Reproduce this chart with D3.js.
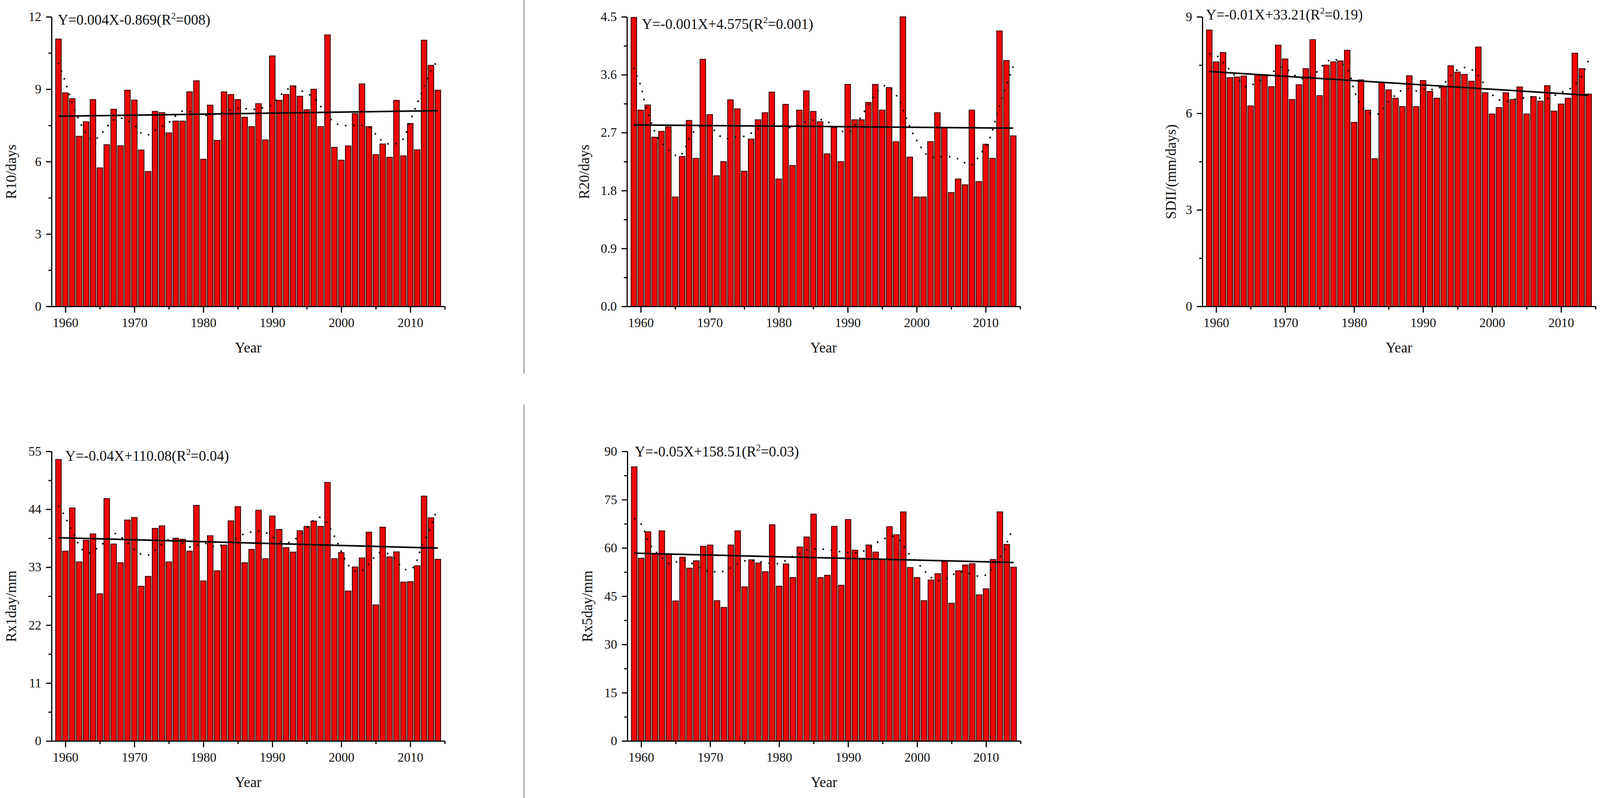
<!DOCTYPE html>
<html>
<head>
<meta charset="utf-8">
<script src="https://cdn.jsdelivr.net/npm/d3@7/dist/d3.min.js"></script>
<style>
  body { margin: 0; background: #fff; }
  text { font-family: "Liberation Serif", "Times New Roman", serif; fill: #111; }
</style>
</head>
<body>
<svg class="chart"></svg>
<script>
// years on the x axis
var years = [1959, 1960, 1961, 1962, 1963, 1964, 1965, 1966, 1967, 1968,
             1969, 1970, 1971, 1972, 1973, 1974, 1975, 1976, 1977, 1978,
             1979, 1980, 1981, 1982, 1983, 1984, 1985, 1986, 1987, 1988,
             1989, 1990, 1991, 1992, 1993, 1994, 1995, 1996, 1997, 1998,
             1999, 2000, 2001, 2002, 2003, 2004, 2005, 2006, 2007, 2008,
             2009, 2010, 2011, 2012, 2013, 2014];
var yearTicks = [1960, 1970, 1980, 1990, 2000, 2010];
var yearMinor = [1965, 1975, 1985, 1995, 2005, 2015];

// R10/days
var r10 = [11.08, 8.85, 8.61, 7.05, 7.65, 8.57, 5.74, 6.70, 8.17, 6.66,
           8.96, 8.55, 6.48, 5.59, 8.08, 8.03, 7.19, 7.68, 7.68, 8.89,
           9.35, 6.10, 8.34, 6.88, 8.89, 8.78, 8.57, 7.84, 7.45, 8.40,
           6.90, 10.38, 8.54, 8.78, 9.14, 8.71, 8.15, 9.00, 7.45, 11.25,
           6.59, 6.06, 6.65, 7.99, 9.22, 7.45, 6.29, 6.73, 6.18, 8.54,
           6.24, 7.58, 6.49, 11.03, 9.99, 8.96];
var r10Trend = [7.88, 8.11];
var r10Smooth = [[1959, 10.1], [1960, 9.3], [1961.2, 8.26], [1962.3, 7.52], [1963, 7.18], [1964, 6.88],
                 [1965, 7.08], [1966, 7.43], [1967, 7.72], [1968, 7.8], [1969, 7.7], [1970, 7.52],
                 [1971, 7.18], [1972, 7.11], [1973, 7.3], [1975, 7.62], [1976.1, 7.92], [1977.2, 8.11],
                 [1978.8, 8.0], [1980.4, 7.92], [1982.4, 8.02], [1984.8, 8.2], [1986, 8.2], [1987, 8.16],
                 [1988, 8.2], [1990, 8.36], [1991, 8.7], [1992, 8.95], [1993, 9.12], [1994, 8.97],
                 [1996, 8.65], [1997, 8.29], [1998, 7.92], [1999, 7.62], [2000, 7.5], [2002, 7.5],
                 [2004, 7.43], [2005, 7.13], [2006, 6.84], [2007, 6.72], [2008, 6.75], [2009, 6.95],
                 [2010, 7.7], [2011, 8.4], [2012, 9.1], [2013, 9.79], [2014, 10.18]];
var r10Ticks = [0, 3, 6, 9, 12];

// R20/days
var r20 = [4.49, 3.05, 3.13, 2.63, 2.72, 2.79, 1.70, 2.33, 2.89, 2.30,
           3.84, 2.98, 2.03, 2.25, 3.21, 3.07, 2.10, 2.60, 2.90, 3.01,
           3.33, 1.98, 3.14, 2.19, 3.05, 3.35, 3.03, 2.87, 2.37, 2.78,
           2.25, 3.45, 2.90, 2.90, 3.17, 3.45, 3.05, 3.40, 2.56, 4.50,
           2.32, 1.70, 1.70, 2.56, 3.01, 2.78, 1.77, 1.98, 1.89, 3.05,
           1.94, 2.52, 2.30, 4.28, 3.82, 2.65];
var r20Trend = [2.82, 2.77];
var r20Smooth = [[1959, 3.71], [1959.5, 3.56], [1960, 3.43], [1960.6, 3.17], [1961.4, 2.9], [1962.5, 2.62],
                 [1964.6, 2.38], [1965.6, 2.33], [1966.6, 2.5], [1967.4, 2.68], [1969.2, 2.82], [1970.6, 2.74],
                 [1972, 2.61], [1973.5, 2.63], [1975.3, 2.65], [1976.7, 2.74], [1979, 2.83], [1981.8, 2.78],
                 [1984, 2.87], [1985.5, 2.9], [1986.7, 2.89], [1988.6, 2.76], [1990, 2.7], [1991.6, 2.89],
                 [1993, 3.13], [1994.6, 3.37], [1995.6, 3.43], [1997.3, 3.24], [1998.3, 2.98], [1999.3, 2.72],
                 [2000.3, 2.53], [2001.8, 2.33], [2004, 2.33], [2005.6, 2.31], [2006.8, 2.24], [2008, 2.2],
                 [2009.3, 2.38], [2010.3, 2.53], [2011.8, 3.04], [2012.5, 3.28], [2014, 3.73]];
var r20Ticks = [0, 0.9, 1.8, 2.7, 3.6, 4.5];

// SDII/(mm/days)
var sdii = [8.59, 7.60, 7.89, 7.11, 7.13, 7.16, 6.23, 7.19, 7.19, 6.83,
            8.12, 7.69, 6.43, 6.89, 7.39, 8.29, 6.55, 7.50, 7.60, 7.63,
            7.96, 5.72, 7.04, 6.10, 4.59, 6.95, 6.73, 6.47, 6.21, 7.17,
            6.21, 7.02, 6.68, 6.47, 6.82, 7.48, 7.28, 7.21, 7.00, 8.06,
            6.64, 5.98, 6.18, 6.64, 6.43, 6.82, 5.98, 6.52, 6.38, 6.86,
            6.07, 6.29, 6.47, 7.87, 7.39, 6.60];
var sdiiTrend = [7.30, 6.56];
var sdiiSmooth = [[1959, 7.85], [1960.3, 7.76], [1961.3, 7.5], [1962.3, 7.28], [1963.3, 7.02], [1964.5, 6.82],
                  [1965.7, 6.95], [1967, 7.1], [1968.5, 7.33], [1969.4, 7.43], [1970.6, 7.32], [1972, 7.1],
                  [1973.2, 7.1], [1974.4, 7.25], [1975.9, 7.58], [1977, 7.69], [1978.2, 7.54], [1979.2, 7.32],
                  [1980, 6.73], [1981.2, 6.18], [1982.5, 5.99], [1983.7, 5.99], [1984.7, 6.29], [1985.7, 6.51],
                  [1986.7, 6.69], [1987.9, 6.77], [1989.3, 6.69], [1990.6, 6.77], [1991.8, 6.73], [1993, 6.91],
                  [1994, 7.17], [1995.3, 7.39], [1996.5, 7.41], [1997.7, 7.25], [1998.7, 6.95], [1999.7, 6.66],
                  [2000.6, 6.47], [2001.9, 6.36], [2003.1, 6.43], [2004.4, 6.47], [2005.6, 6.51], [2007.1, 6.47],
                  [2008.3, 6.47], [2009.6, 6.62], [2011, 6.73], [2011.8, 6.84], [2013, 7.17], [2014, 7.65]];
var sdiiTicks = [0, 3, 6, 9];

// Rx1day/mm
var rx1 = [53.46, 36.06, 44.26, 34.00, 38.12, 39.32, 27.95, 46.03, 37.40, 33.85,
           41.96, 42.44, 29.39, 31.26, 40.37, 40.85, 34.00, 38.50, 38.31, 36.06,
           44.74, 30.40, 38.98, 32.32, 37.21, 41.81, 44.50, 33.85, 36.39, 43.83,
           34.62, 42.72, 40.18, 36.73, 35.87, 39.94, 40.76, 41.76, 40.76, 49.10,
           34.62, 35.77, 28.48, 33.04, 34.76, 39.65, 25.85, 40.61, 34.96, 35.91,
           30.16, 30.26, 33.28, 46.51, 42.39, 34.52];
var rx1Trend = [38.6, 36.63];
var rx1Smooth = [[1959, 44.7], [1959.8, 43.0], [1960.5, 41.1], [1961.2, 39.4], [1961.7, 37.9], [1962.5, 36.3],
                 [1963.5, 35.7], [1964.8, 36.8], [1966.1, 38.2], [1967.2, 39.4], [1968.3, 38.5], [1969.5, 37.0],
                 [1970.7, 35.6], [1972, 35.3], [1973.1, 36.3], [1974.3, 37.7], [1975.7, 38.5], [1977, 37.5],
                 [1978.3, 36.8], [1979.4, 37.3], [1980.7, 37.5], [1981.8, 36.8], [1983.1, 37.5], [1984.4, 38.2],
                 [1985.7, 39.2], [1987, 39.7], [1988.3, 39.8], [1989.6, 39.2], [1990.7, 38.2], [1992, 37.6],
                 [1993.3, 38.3], [1994.7, 39.9], [1995.7, 41.6], [1996.7, 42.5], [1997.7, 41.8], [1998.6, 39.9],
                 [1999.5, 37.5], [2000.3, 35.1], [2001, 33.4], [2002.1, 32.2], [2003.2, 32.5], [2004.3, 34.1],
                 [2005.4, 35.7], [2006.5, 35.7], [2007.8, 34.6], [2009, 32.7], [2010.2, 32.7], [2011, 34.4],
                 [2011.7, 37.3], [2012.6, 39.4], [2013.4, 42.3], [2014, 44.2]];
var rx1Ticks = [0, 11, 22, 33, 44, 55];

// Rx5day/mm
var rx5 = [85.2, 56.8, 65.0, 58.3, 65.3, 58.0, 43.5, 57.1, 53.7, 56.0,
           60.5, 60.9, 43.6, 41.5, 60.9, 65.3, 47.9, 56.3, 55.3, 52.6,
           67.2, 48.1, 55.0, 50.8, 60.3, 63.4, 70.5, 50.8, 51.5, 66.7,
           48.4, 68.8, 59.3, 56.8, 60.9, 58.7, 56.4, 66.6, 64.1, 71.2,
           53.9, 50.8, 43.6, 50.0, 52.0, 55.8, 42.8, 52.9, 54.7, 55.1,
           45.4, 47.3, 56.4, 71.2, 61.1, 54.0];
var rx5Trend = [58.35, 55.46];
var rx5Smooth = [[1959, 69.2], [1960.1, 67.1], [1961.1, 61.6], [1962.1, 58.9], [1963.2, 56.6], [1964.2, 55.0],
                 [1965.4, 55.8], [1966.7, 56.0], [1967.9, 54.4], [1969.2, 53.0], [1970.5, 52.6], [1971.7, 52.6],
                 [1973, 53.8], [1974.3, 55.4], [1975.6, 56.2], [1976.9, 55.8], [1978.1, 55.4], [1979.4, 55.0],
                 [1980.7, 55.8], [1981.9, 57.3], [1983, 58.3], [1984.2, 59.5], [1985.5, 59.7], [1986.8, 59.5],
                 [1988, 59.1], [1989.3, 58.7], [1990.6, 58.5], [1991.9, 58.7], [1993.1, 60.1], [1994.4, 61.9],
                 [1995.7, 63.2], [1996.7, 63.6], [1997.7, 61.6], [1998.7, 58.5], [1999.8, 55.9], [2000.8, 53.6],
                 [2001.8, 51.2], [2002.8, 49.9], [2004.1, 50.3], [2005.4, 51.9], [2006.6, 52.6], [2007.9, 51.9],
                 [2009.2, 51.1], [2010.4, 52.2], [2011.5, 55.8], [2012.5, 58.5], [2013.3, 63.2], [2014, 66.3]];
var rx5Ticks = [0, 15, 30, 45, 60, 75, 90];


var plotWidth = 1006.6,
    plotHeight = 741;

var panels = [
  {values: r10, trend: r10Trend, smooth: r10Smooth, ticks: r10Ticks, fmt: d3.format('d'),
   label: 'R10/days', eq: ['Y=0.004X-0.869(R', '2', '=008)'],
   left: 132, top: 43, labelX: 29, eqDx: 16, eqY: 63},
  {values: r20, trend: r20Trend, smooth: r20Smooth, ticks: r20Ticks, fmt: d3.format('.1f'),
   label: 'R20/days', eq: ['Y=-0.001X+4.575(R', '2', '=0.001)'],
   left: 1605, top: 43, labelX: 1496, eqDx: 38, eqY: 74},
  {values: sdii, trend: sdiiTrend, smooth: sdiiSmooth, ticks: sdiiTicks, fmt: d3.format('d'),
   label: 'SDII/(mm/days)', eq: ['Y=-0.01X+33.21(R', '2', '=0.19)'],
   left: 3078, top: 43, labelX: 2998, eqDx: 9, eqY: 50},
  {values: rx1, trend: rx1Trend, smooth: rx1Smooth, ticks: rx1Ticks, fmt: d3.format('d'),
   label: 'Rx1day/mm', eq: ['Y=-0.04X+110.08(R', '2', '=0.04)'],
   left: 132, top: 1155, labelX: 29, eqDx: 35, eqY: 1179},
  {values: rx5, trend: rx5Trend, smooth: rx5Smooth, ticks: rx5Ticks, fmt: d3.format('d'),
   label: 'Rx5day/mm', eq: ['Y=-0.05X+158.51(R', '2', '=0.03)'],
   left: 1606, top: 1155, labelX: 1504, eqDx: 19, eqY: 1168}
];

var svg = d3.select('.chart')
    .attr('width', 4102)
    .attr('height', 2042);

svg.append('rect')
    .attr('width', 4102)
    .attr('height', 2042)
    .attr('fill', '#fff');

// grey separators between the columns
svg.append('line')
    .attr('x1', 1341.5).attr('x2', 1341.5)
    .attr('y1', 0).attr('y2', 956)
    .attr('stroke', '#8a8a8a').attr('stroke-width', 2.5);
svg.append('line')
    .attr('x1', 1341.5).attr('x2', 1341.5)
    .attr('y1', 1036).attr('y2', 2042)
    .attr('stroke', '#8a8a8a').attr('stroke-width', 2.5);

const styleAxis = (g) => {
  g.select('.domain').attr('stroke', '#000').attr('stroke-width', 3);
  g.selectAll('.tick line').attr('stroke', '#000').attr('stroke-width', 3);
  g.selectAll('.tick text')
      .attr('fill', '#111')
      .style('font-family', '"Liberation Serif", "Times New Roman", serif')
      .style('font-size', '33px');
};

const drawPanel = (p) => {
  var bottom = p.top + plotHeight;

  var x = d3.scaleLinear()
      .domain([1958, 2015])
      .range([p.left, p.left + plotWidth]);

  var y = d3.scaleLinear()
      .domain([0, p.ticks[p.ticks.length - 1]])
      .range([bottom, p.top]);

  var step = x(1) - x(0),
      bw = step * 0.81;

  var g = svg.append('g');

  // bars
  g.selectAll('rect.bar')
      .data(p.values)
    .enter().append('rect')
      .attr('class', 'bar')
      .attr('x', (d, i) => x(years[i]) - bw / 2)
      .attr('y', (d) => y(d))
      .attr('width', bw)
      .attr('height', (d) => y(0) - y(d))
      .attr('fill', '#f00505')
      .attr('stroke', '#2e0000')
      .attr('stroke-width', 2);

  // smoothed curve (dotted)
  var smoothLine = d3.line()
      .x((d) => x(d[0]))
      .y((d) => y(d[1]))
      .curve(d3.curveCatmullRom);

  g.append('path')
      .datum(p.smooth)
      .attr('d', smoothLine)
      .attr('fill', 'none')
      .attr('stroke', '#000')
      .attr('stroke-width', 4)
      .attr('stroke-dasharray', '4 17');

  // linear trend
  var trendLine = d3.line()
      .x((d) => x(d[0]))
      .y((d) => y(d[1]));

  g.append('path')
      .datum([[years[0], p.trend[0]], [years[years.length - 1], p.trend[1]]])
      .attr('d', trendLine)
      .attr('fill', 'none')
      .attr('stroke', '#000')
      .attr('stroke-width', 4);

  // y axis, major + minor ticks
  var minorY = p.ticks.slice(1).map((t, i) => (t + p.ticks[i]) / 2);

  g.append('g')
      .attr('transform', `translate(${p.left},0)`)
      .call(d3.axisLeft(y).tickValues(minorY).tickSize(8).tickSizeOuter(0).tickFormat(''))
      .call(styleAxis);

  g.append('g')
      .attr('transform', `translate(${p.left},0)`)
      .call(d3.axisLeft(y).tickValues(p.ticks).tickSize(14).tickSizeOuter(0)
            .tickPadding(12).tickFormat(p.fmt))
      .call(styleAxis);

  // x axis
  g.append('g')
      .attr('transform', `translate(0,${bottom})`)
      .call(d3.axisBottom(x).tickValues(yearMinor).tickSize(8).tickSizeOuter(0).tickFormat(''))
      .call(styleAxis);

  g.append('g')
      .attr('transform', `translate(0,${bottom})`)
      .call(d3.axisBottom(x).tickValues(yearTicks).tickSize(16).tickSizeOuter(0)
            .tickPadding(14).tickFormat(d3.format('d')))
      .call(styleAxis);

  // axis titles
  g.append('text')
      .attr('x', p.left + plotWidth / 2)
      .attr('y', bottom + 118)
      .attr('text-anchor', 'middle')
      .style('font-size', '37px')
      .text('Year');

  g.append('text')
      .attr('transform', `translate(${p.labelX},${p.top + plotHeight / 2 + 26}) rotate(-90)`)
      .attr('dy', '0.32em')
      .attr('text-anchor', 'middle')
      .style('font-size', '37px')
      .text(p.label);

  // regression equation
  var eq = g.append('text')
      .attr('x', p.left + p.eqDx)
      .attr('y', p.eqY)
      .style('font-size', '37px');
  eq.append('tspan').text(p.eq[0]);
  eq.append('tspan').attr('dy', -15).style('font-size', '23px').text(p.eq[1]);
  eq.append('tspan').attr('dy', 15).text(p.eq[2]);
};

panels.forEach(drawPanel);
</script>
</body>
</html>
